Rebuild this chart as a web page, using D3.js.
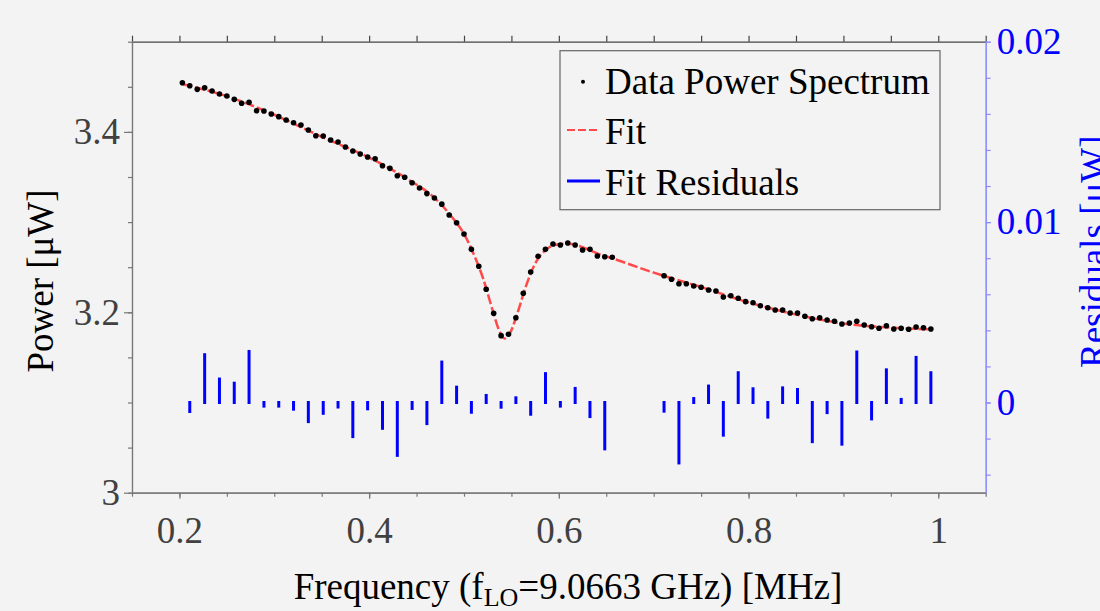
<!DOCTYPE html>
<html>
<head>
<meta charset="utf-8">
<script src="https://cdn.jsdelivr.net/npm/d3@7"></script>
<style>
  body { margin: 0; background: #f3f3f3; }
  text { font-family: "Times New Roman", "Liberation Serif", serif; }
</style>
</head>
<body>
<script>
// measured spectrum (MHz, uW)
var dataFreq = [0.2031, 0.2109, 0.2188, 0.2266, 0.2344, 0.2422, 0.25, 0.2578, 0.2656, 0.2734,
  0.2813, 0.2891, 0.2969, 0.3047, 0.3125, 0.3203, 0.3281, 0.3359, 0.3438, 0.3516,
  0.3594, 0.3672, 0.375, 0.3828, 0.3906, 0.3984, 0.4063, 0.4141, 0.4219, 0.4297,
  0.4375, 0.4453, 0.4531, 0.4609, 0.4688, 0.4766, 0.4844, 0.4922, 0.5, 0.5078,
  0.5156, 0.5234, 0.5313, 0.5391, 0.5469, 0.5547, 0.5625, 0.5703, 0.5781, 0.5859,
  0.5938, 0.6016, 0.6094, 0.6172, 0.625, 0.6328, 0.6406, 0.6484, 0.6563,
  0.7109, 0.7188, 0.7266, 0.7344, 0.7422, 0.75, 0.7578, 0.7656, 0.7734, 0.7813,
  0.7891, 0.7969, 0.8047, 0.8125, 0.8203, 0.8281, 0.8359, 0.8438, 0.8516, 0.8594,
  0.8672, 0.875, 0.8828, 0.8906, 0.8984, 0.9063, 0.9141, 0.9219, 0.9297, 0.9375,
  0.9453, 0.9531, 0.9609, 0.9688, 0.9766, 0.9844, 0.9922];
var dataPower = [3.4545, 3.4512, 3.4472, 3.4490, 3.4453, 3.4420, 3.4398, 3.4361, 3.4317, 3.4328,
  3.4235, 3.4232, 3.4198, 3.4169, 3.4132, 3.4102, 3.4077, 3.4021, 3.3958, 3.3955,
  3.3910, 3.3888, 3.3833, 3.3788, 3.3755, 3.3722, 3.3703, 3.3625, 3.3596, 3.3514,
  3.3497, 3.3437, 3.3378, 3.3316, 3.3268, 3.3199, 3.3079, 3.2993, 3.2868, 3.2698,
  3.2510, 3.2255, 3.1989, 3.1741, 3.1756, 3.1940, 3.2211, 3.2447, 3.2621, 3.2698,
  3.2757, 3.2746, 3.2768, 3.2746, 3.2691, 3.2698, 3.2624, 3.2616, 3.2610,
  3.2406, 3.2366, 3.2317, 3.2317, 3.2292, 3.2277, 3.2247, 3.2236, 3.2170, 3.2184,
  3.2155, 3.2118, 3.2106, 3.2073, 3.2051, 3.2026, 3.2026, 3.1992, 3.1992, 3.1956,
  3.1929, 3.1940, 3.1915, 3.1900, 3.1870, 3.1881, 3.1900, 3.1859, 3.1840, 3.1823,
  3.1851, 3.1815, 3.1823, 3.1812, 3.1837, 3.1829, 3.1815];

// fit curve, read at a few points
var fitFreq = [0.2031, 0.25, 0.30, 0.35, 0.40, 0.44, 0.47, 0.49, 0.50, 0.51, 0.52, 0.53, 0.537,
  0.543, 0.549, 0.556, 0.565, 0.575, 0.585, 0.60, 0.61, 0.62, 0.64, 0.66, 0.70, 0.75,
  0.80, 0.85, 0.90, 0.95, 0.9922];
var fitPower = [3.4530, 3.4395, 3.4190, 3.3945, 3.3715, 3.3480, 3.3258, 3.3020, 3.2870, 3.2650,
  3.2380, 3.2030, 3.1800, 3.1710, 3.1780, 3.1980, 3.2280, 3.2540, 3.2680, 3.2755,
  3.2760, 3.2740, 3.2655, 3.2585, 3.2440, 3.2280, 3.2110, 3.1975, 3.1875, 3.1830, 3.1810];

// residuals (uW), right axis
var resFreq = [0.2109, 0.2266, 0.2422, 0.2578, 0.2734, 0.2891, 0.3047, 0.3203, 0.3359, 0.3516,
  0.3672, 0.3828, 0.3984, 0.4141, 0.4297, 0.4453, 0.4609, 0.4766, 0.4922, 0.5078,
  0.5234, 0.5391, 0.5547, 0.5703, 0.5859, 0.6016, 0.6172, 0.6328, 0.6484,
  0.7109, 0.7266, 0.7422, 0.7578, 0.7734, 0.7891, 0.8047, 0.8203, 0.8359, 0.8516,
  0.8672, 0.8828, 0.8984, 0.9141, 0.9297, 0.9453, 0.9609, 0.9766, 0.9922];
var resValue = [-0.0005, 0.00265, 0.0013, 0.00107, 0.00283, -0.0002, -0.0002, -0.00037, -0.00106, -0.0006,
  -0.00025, -0.00189, -0.00035, -0.00143, -0.00293, -0.00033, -0.00117, 0.00224, 0.00085, -0.00054,
  0.00039, -0.00026, 0.00026, -0.00065, 0.0016, -0.0002, 0.00078, -0.00078, -0.00257,
  -0.00048, -0.00335, 0.00022, 0.00091, -0.00181, 0.00165, 0.00076, -0.00081, 0.00081, 0.00072,
  -0.00217, -0.00056, -0.00231, 0.0028, -0.00091, 0.00181, 0.00017, 0.0025, 0.00165];

var xMajor = [0.2, 0.4, 0.6, 0.8, 1];
var yMajor = [3, 3.2, 3.4];
var rMajor = [0, 0.01, 0.02];

var width = 1100, height = 611;
var pLeft = 132, pRight = 985.7, pTop = 41.7, pBottom = 492.7;
var fs = "37px";

var x = d3.scaleLinear().domain([0.15, 1.05]).range([pLeft, pRight]);
var y = d3.scaleLinear().domain([3, 3.5]).range([pBottom, pTop]);
var yR = d3.scaleLinear().domain([-0.005, 0.02]).range([pBottom, pTop]);

var svg = d3.select("body").append("svg")
  .attr("width", width)
  .attr("height", height);

svg.append("rect").attr("width", width).attr("height", height).attr("fill", "#f3f3f3");

// minor ticks every 0.05 (x, left) and 0.002 (right)
var xMinor = d3.range(0.15, 1.0501, 0.05);
var yMinor = d3.range(3, 3.5001, 0.05);
var rMinor = d3.range(-0.004, 0.0201, 0.002);

function styleAxis(g, col, lab) {
  g.select(".domain").attr("stroke", col).attr("stroke-width", 1.2);
  g.selectAll(".tick line").attr("stroke", col).attr("stroke-width", 1.2);
  g.selectAll(".tick text").attr("fill", lab).style("font-size", fs)
    .style("font-family", '"Times New Roman", "Liberation Serif", serif');
}

// bottom
svg.append("g").attr("transform", "translate(0," + pBottom + ")")
  .call(d3.axisBottom(x).tickValues(xMinor).tickSize(4).tickFormat("").tickSizeOuter(0))
  .call(styleAxis, "#777", "#404040");
svg.append("g").attr("transform", "translate(0," + pBottom + ")")
  .call(d3.axisBottom(x).tickValues(xMajor).tickSize(6).tickPadding(18).tickFormat(d3.format("")).tickSizeOuter(0))
  .call(styleAxis, "#777", "#404040");
// top
svg.append("g").attr("transform", "translate(0," + pTop + ")")
  .call(d3.axisTop(x).tickValues(xMinor).tickSize(6).tickFormat("").tickSizeOuter(0))
  .call(styleAxis, "#444", "#404040");
// left
svg.append("g").attr("transform", "translate(" + pLeft + ",0)")
  .call(d3.axisLeft(y).tickValues(yMinor).tickSize(4).tickFormat("").tickSizeOuter(0))
  .call(styleAxis, "#777", "#404040");
svg.append("g").attr("transform", "translate(" + pLeft + ",0)")
  .call(d3.axisLeft(y).tickValues(yMajor).tickSize(8).tickPadding(4).tickFormat(d3.format("")).tickSizeOuter(0))
  .call(styleAxis, "#777", "#404040");
// right
svg.append("g").attr("transform", "translate(" + pRight + ",0)")
  .call(d3.axisRight(yR).tickValues(rMinor).tickSize(5).tickFormat("").tickSizeOuter(0))
  .call(styleAxis, "#8c8cff", "blue");
svg.append("g").attr("transform", "translate(" + pRight + ",0)")
  .call(d3.axisRight(yR).tickValues(rMajor).tickSize(5).tickPadding(6).tickFormat(d3.format("")).tickSizeOuter(0))
  .call(styleAxis, "#8c8cff", "blue");

// residual stems
svg.append("g").selectAll("line")
  .data(resFreq)
  .enter().append("line")
  .attr("x1", function(d) { return x(d); })
  .attr("x2", function(d) { return x(d); })
  .attr("y1", yR(0))
  .attr("y2", function(d, i) { return yR(resValue[i]); })
  .attr("stroke", "blue")
  .attr("stroke-width", 3)
  .attr("stroke-linecap", "square");

// fit
var fitLine = d3.line()
  .x(function(d) { return x(d); })
  .y(function(d, i) { return y(fitPower[i]); })
  .curve(d3.curveMonotoneX);
svg.append("path")
  .attr("d", fitLine(fitFreq))
  .attr("fill", "none")
  .attr("stroke", "#ff4a4a")
  .attr("stroke-width", 2.5)
  .attr("stroke-dasharray", "10,3");

// data points
svg.append("g").selectAll("circle")
  .data(dataFreq)
  .enter().append("circle")
  .attr("cx", function(d) { return x(d); })
  .attr("cy", function(d, i) { return y(dataPower[i]); })
  .attr("r", 2.8)
  .attr("fill", "#000");

// legend
var leg = svg.append("g");
leg.append("rect")
  .attr("x", 560).attr("y", 50.7).attr("width", 380).attr("height", 159)
  .attr("fill", "#f3f3f3").attr("stroke", "#666").attr("stroke-width", 1.2);
leg.append("circle").attr("cx", 583).attr("cy", 81.7).attr("r", 2).attr("fill", "#000");
leg.append("line").attr("x1", 567).attr("x2", 600).attr("y1", 130).attr("y2", 130)
  .attr("stroke", "#ff4a4a").attr("stroke-width", 2).attr("stroke-dasharray", "8,3");
leg.append("line").attr("x1", 567).attr("x2", 600).attr("y1", 181).attr("y2", 181)
  .attr("stroke", "blue").attr("stroke-width", 3);
var legNames = ["Data Power Spectrum", "Fit", "Fit Residuals"];
var legBase = [94, 144, 195];
leg.selectAll("text.l").data(legNames).enter().append("text")
  .attr("class", "l")
  .attr("x", 605)
  .attr("y", function(d, i) { return legBase[i]; })
  .style("font-size", fs)
  .attr("fill", "#000")
  .text(function(d) { return d; });

// axis labels
var xl = svg.append("text")
  .attr("x", 568).attr("y", 599)
  .attr("text-anchor", "middle")
  .style("font-size", fs);
xl.append("tspan").text("Frequency (f");
xl.append("tspan").attr("dy", 7).style("font-size", "26px").text("LO");
xl.append("tspan").attr("dy", -7).text("=9.0663 GHz) [MHz]");

svg.append("text")
  .attr("transform", "translate(53,281) rotate(-90)")
  .attr("text-anchor", "middle")
  .style("font-size", fs)
  .text("Power [\u03bcW]");

svg.append("text")
  .attr("transform", "translate(1106,368) rotate(-90)")
  .attr("text-anchor", "start")
  .attr("fill", "blue")
  .style("font-size", fs)
  .text("Residuals [\u03bcW]");
</script>
</body>
</html>
